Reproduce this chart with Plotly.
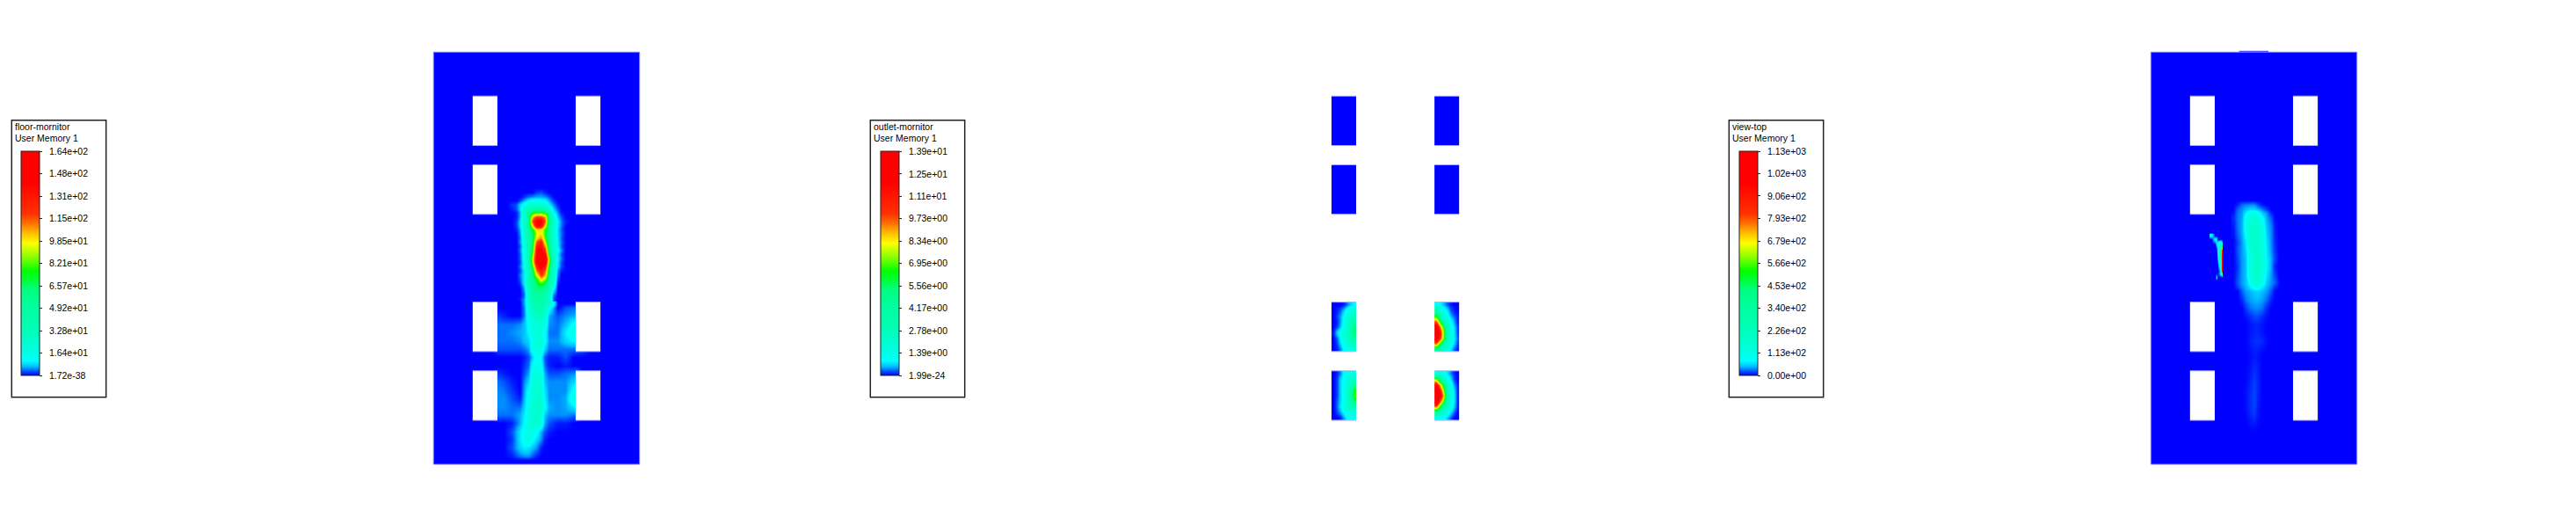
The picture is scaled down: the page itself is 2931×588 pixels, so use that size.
import plotly.graph_objects as go

W, H = 2931, 588

# ---------- colour map ----------
CMAP_POS = [0, .02, .04, .065, .10, .19, .30, .385, .42, .465, .52, .59, .64, .68, .72, .86, 1]
CMAP_COL = ["#0000ff", "#005aff", "#00beff", "#00ffff", "#00ffe6", "#00ffbe", "#00ffa0", "#00ff80", "#00ff40",
            "#00ff00", "#78ff00", "#ffff00", "#ffb400", "#ff6e00", "#ff3200", "#ff0000", "#ff0000"]

# ---------- legend texts ----------
FLOOR_TITLE = "floor-mornitor"
OUTLET_TITLE = "outlet-mornitor"
VIEW_TITLE = "view-top"
SUBTITLE = "User Memory 1"
FLOOR_TICKS = [0, 16.4, 32.8, 49.2, 65.7, 82.1, 98.5, 115, 131, 148, 164]
FLOOR_LABELS = ["1.72e-38", "1.64e+01", "3.28e+01", "4.92e+01", "6.57e+01", "8.21e+01", "9.85e+01", "1.15e+02", "1.31e+02", "1.48e+02", "1.64e+02"]
OUTLET_TICKS = [0, 1.39, 2.78, 4.17, 5.56, 6.95, 8.34, 9.73, 11.1, 12.5, 13.9]
OUTLET_LABELS = ["1.99e-24", "1.39e+00", "2.78e+00", "4.17e+00", "5.56e+00", "6.95e+00", "8.34e+00", "9.73e+00", "1.11e+01", "1.25e+01", "1.39e+01"]
VIEW_TICKS = [0, 113, 226, 340, 453, 566, 679, 793, 906, 1020, 1130]
VIEW_LABELS = ["0.00e+00", "1.13e+02", "2.26e+02", "3.40e+02", "4.53e+02", "5.66e+02", "6.79e+02", "7.93e+02", "9.06e+02", "1.02e+03", "1.13e+03"]

# ---------- geometry of the floor plan (model units) ----------
PLAN_W, PLAN_H = 25, 50
WIN_X = [(4.75, 7.75), (17.25, 20.25)]
WIN_Y = [(5.33, 11.33), (13.67, 19.67), (30.33, 36.33), (38.67, 44.67)]

# ---------- floor-mornitor field ----------
FLOOR_UP_X = [9, 9.5, 10, 10.5, 11, 11.5, 12, 12.5, 13, 13.5, 14, 14.5, 15, 15.5, 16, 16.5]
FLOOR_UP_Y = [16.5, 17, 17.5, 18, 18.5, 19, 19.5, 20, 20.5, 21, 21.5, 22, 22.5, 23, 23.5, 24, 24.5,
              25, 25.5, 26, 26.5, 27, 27.5, 28, 28.5, 29, 29.5, 30, 30.5]
FLOOR_UP_Z = [
    [0, 0, 0, 0, 0, 0, 0, 0, 0, 0, 0, 0, 0, 0, 0, 0],
    [0, 0, 0, 0, 0, 0, 0, 2, 3, 1, 0, 0, 0, 0, 0, 0],
    [0, 0, 0, 0, 2, 4, 5, 6, 6, 5, 3, 0, 0, 0, 0, 0],
    [0, 0, 0, 2, 6, 10, 12, 12, 12, 10, 6, 2, 0, 0, 0, 0],
    [0, 2, 3, 8, 14, 22, 24, 24, 24, 20, 10, 5, 1, 0, 0, 0],
    [0, 1, 3, 8, 24, 40, 45, 45, 45, 40, 22, 8, 3, 0, 0, 0],
    [0, 0, 1, 6, 24, 52, 72, 80, 80, 72, 40, 12, 5, 1, 0, 0],
    [0, 0, 1, 6, 24, 60, 102, 120, 120, 105, 55, 20, 7, 3, 0, 0],
    [0, 0, 2, 8, 26, 60, 115, 145, 145, 110, 55, 24, 10, 4, 1, 0],
    [0, 0, 2, 8, 26, 55, 95, 140, 135, 95, 52, 24, 9, 4, 0, 0],
    [0, 0, 1, 6, 24, 50, 72, 100, 100, 75, 50, 22, 8, 3, 0, 0],
    [0, 0, 0, 5, 20, 48, 62, 95, 100, 75, 50, 22, 8, 4, 0, 0],
    [0, 0, 0, 4, 18, 46, 62, 100, 110, 78, 48, 24, 9, 3, 0, 0],
    [0, 0, 0, 5, 18, 46, 66, 115, 128, 88, 50, 25, 9, 4, 0, 0],
    [0, 0, 0, 3, 14, 44, 68, 130, 135, 105, 52, 26, 10, 3, 0, 0],
    [0, 0, 0, 4, 16, 44, 72, 138, 148, 120, 58, 28, 12, 5, 0, 0],
    [0, 0, 0, 3, 14, 42, 80, 140, 150, 135, 68, 28, 9, 3, 0, 0],
    [0, 0, 0, 3, 14, 42, 90, 145, 155, 145, 90, 28, 10, 4, 0, 0],
    [0, 0, 0, 2, 12, 42, 88, 140, 150, 140, 85, 26, 9, 2, 0, 0],
    [0, 0, 0, 4, 12, 42, 75, 130, 145, 128, 72, 26, 8, 3, 0, 0],
    [0, 0, 0, 2, 10, 42, 62, 112, 128, 112, 62, 26, 5, 1, 0, 0],
    [0, 0, 0, 4, 10, 40, 58, 95, 120, 105, 58, 25, 4, 0, 0, 0],
    [0, 0, 0, 3, 10, 40, 55, 78, 104, 88, 50, 24, 2, 0, 0, 0],
    [0, 0, 0, 2, 10, 38, 52, 68, 82, 68, 45, 20, 1, 0, 0, 0],
    [0, 0, 0, 0, 7, 34, 50, 62, 66, 55, 36, 14, 0, 0, 0, 0],
    [0, 0, 0, 0, 5, 28, 45, 55, 56, 48, 30, 8, 0, 0, 0, 0],
    [0, 0, 0, 0, 4, 26, 40, 50, 50, 42, 28, 4, 0, 0, 0, 0],
    [0, 0, 0, 1, 6, 24, 38, 48, 48, 36, 26, 3, 0, 0, 0, 0],
    [0, 0, 0, 0, 6, 22, 33, 45, 45, 35, 25, 6, 0, 0, 0, 0],
]
FLOOR_LOW_X = [7, 7.75, 8.5, 9.5, 10.5, 11, 11.5, 12, 12.5, 13, 13.5, 14, 15, 16, 17, 17.25, 18, 19]
FLOOR_LOW_Y = [30.5, 31, 32, 33, 34, 35, 36, 37, 38, 39, 40, 41, 42, 43, 44, 45, 46, 47, 48, 49, 49.5]
FLOOR_LOW_Z = [
    [0, 0, 0, 0, 0, 6, 22, 33, 45, 45, 35, 25, 0, 0, 0, 0, 0, 0],
    [0, 0, 0, 0, 0, 5, 20, 30, 42, 40, 30, 12, 0, 3, 4, 4, 0, 0],
    [0, 2, 1, 0, 0, 5, 16, 22, 30, 30, 22, 6, 3, 5, 6, 7, 0, 0],
    [0, 4, 4, 4, 5, 7, 12, 18, 22, 22, 16, 5, 4, 7, 12, 14, 0, 0],
    [0, 4, 4, 5, 6, 7, 11, 18, 20, 18, 12, 4, 4, 10, 16, 18, 0, 0],
    [0, 4, 4, 4, 5, 7, 8, 14, 22, 24, 12, 5, 5, 8, 10, 10, 0, 0],
    [0, 3, 3, 3, 3, 4, 6, 14, 18, 16, 8, 4, 4, 4, 4, 4, 3, 0],
    [0, 0, 0, 0, 0, 1, 3, 7, 14, 10, 3, 1, 1, 3, 0, 0, 0, 0],
    [0, 0, 0, 0, 0, 2, 4, 12, 16, 12, 4, 1, 0, 1, 0, 0, 0, 0],
    [0, 2, 1, 0, 0, 3, 6, 16, 20, 16, 6, 3, 3, 4, 5, 6, 0, 0],
    [0, 4, 3, 1, 0, 5, 8, 18, 22, 18, 7, 5, 5, 5, 8, 9, 0, 0],
    [0, 5, 4, 2, 0, 6, 12, 20, 25, 20, 9, 5, 5, 5, 12, 16, 0, 0],
    [0, 5, 5, 3, 1, 7, 14, 20, 26, 22, 10, 5, 5, 6, 16, 20, 0, 0],
    [0, 5, 5, 4, 4, 8, 15, 22, 26, 24, 12, 6, 5, 6, 9, 10, 0, 0],
    [0, 4, 4, 4, 6, 10, 16, 24, 26, 22, 7, 5, 5, 5, 4, 4, 0, 0],
    [0, 0, 0, 1, 6, 11, 18, 24, 24, 16, 6, 3, 1, 1, 0, 0, 0, 0],
    [0, 0, 0, 3, 9, 14, 18, 16, 12, 6, 3, 1, 0, 0, 0, 0, 0, 0],
    [0, 0, 0, 2, 9, 13, 16, 12, 8, 5, 1, 0, 0, 0, 0, 0, 0, 0],
    [0, 0, 0, 3, 8, 10, 9, 7, 5, 1, 0, 0, 0, 0, 0, 0, 0, 0],
    [0, 0, 0, 1, 4, 5, 5, 3, 1, 0, 0, 0, 0, 0, 0, 0, 0, 0],
    [0, 0, 0, 0, 0, 0, 0, 0, 0, 0, 0, 0, 0, 0, 0, 0, 0, 0],
]

# ---------- outlet-mornitor field: one grid per window (7 x 9 samples) ----------
OUTLET_BLANK = [[0, 0], [0, 0]]
OUTLET_A = [
    [0, 0, 0, .1, .4, .7, .9],
    [0, .1, .3, .7, 1.2, 1.6, 2.0],
    [0, .2, .5, 1.0, 1.8, 2.4, 3.0],
    [0, .1, .5, 1.1, 2.0, 2.8, 4.0],
    [0, .2, .6, 1.3, 2.2, 3.4, 5.3],
    [.1, .7, 1.2, 1.8, 2.6, 3.6, 5.6],
    [0, .3, .9, 1.5, 2.3, 3.2, 4.5],
    [0, .2, .7, 1.3, 2.0, 2.6, 3.2],
    [0, .1, .4, 1.0, 1.2, 1.3, 1.4],
]
OUTLET_B = [
    [1.0, .9, .6, .3, .1, 0, 0],
    [4.0, 2.0, 1.2, .8, .3, .1, 0],
    [6.5, 3.5, 2.0, 1.2, .6, .3, .1],
    [9.8, 6.5, 3.3, 1.8, 1.0, .5, .1],
    [13, 9.5, 6.5, 2.8, 1.4, .7, .2],
    [13.5, 11, 7.5, 3.0, 1.6, .8, .2],
    [13, 10.5, 7.2, 3.0, 1.5, .8, .3],
    [9.5, 6.5, 3.5, 2.2, 1.3, .7, .2],
    [4.5, 3.0, 2.0, 1.3, .8, .3, .1],
]
OUTLET_C = [
    [0, .1, .4, 1.0, 1.3, 1.4, 1.4],
    [0, .2, .7, 1.1, 1.8, 2.2, 2.5],
    [0, .2, .7, 1.2, 2.0, 3.0, 5.0],
    [0, .2, .7, 1.2, 2.3, 4.0, 6.5],
    [0, .2, .7, 1.2, 2.3, 4.2, 7.0],
    [0, .3, .7, 1.2, 2.2, 3.5, 5.6],
    [0, .3, .8, 1.3, 2.0, 2.6, 3.0],
    [0, .2, .5, 1.0, 1.3, 1.6, 2.0],
    [0, 0, .1, .5, 1.0, 1.2, 1.3],
]
OUTLET_D = [
    [1.4, 1.3, 1.2, .8, .4, .1, 0],
    [7.5, 4.5, 2.2, 1.3, .8, .2, 0],
    [12, 9, 6, 2.5, 1.2, .5, .1],
    [14, 11, 7.5, 3.0, 1.5, .7, .1],
    [14, 12, 9, 3.5, 1.6, .8, .1],
    [13.5, 10, 6.8, 3.0, 1.5, .8, .1],
    [9, 6, 3.2, 2.2, 1.3, .6, .1],
    [4, 2.8, 2.0, 1.3, .7, .3, 0],
    [1.3, 1.2, 1.1, .6, .3, 0, 0],
]

# ---------- view-top field ----------
VIEW_X = [10, 10.5, 11, 11.5, 12, 12.5, 13, 13.5, 14, 14.5, 15, 15.5]
VIEW_Y = [18, 18.5, 19, 19.5, 20, 21, 22, 23, 24, 25, 26, 27, 28, 28.5, 29, 30, 31, 32, 33, 34, 35,
          36, 37, 38, 39, 40, 41, 42, 43, 44, 45, 46]
VIEW_Z = [
    [0, 0, 0, 0, 0, 0, 0, 0, 0, 0, 0, 0],
    [0, 10, 28, 32, 36, 36, 20, 6, 0, 0, 0, 0],
    [0, 25, 35, 45, 55, 55, 45, 30, 14, 0, 0, 0],
    [3, 30, 38, 65, 95, 100, 85, 50, 35, 8, 0, 0],
    [10, 30, 40, 85, 140, 150, 135, 75, 40, 22, 0, 0],
    [6, 30, 42, 95, 165, 175, 160, 100, 45, 32, 6, 0],
    [3, 26, 42, 80, 165, 180, 175, 120, 50, 34, 8, 0],
    [0, 18, 38, 62, 155, 180, 180, 130, 58, 34, 10, 0],
    [0, 22, 38, 52, 135, 175, 180, 140, 60, 36, 14, 0],
    [0, 18, 38, 46, 120, 175, 185, 145, 70, 40, 18, 0],
    [0, 14, 38, 46, 120, 175, 185, 140, 70, 40, 8, 0],
    [0, 18, 38, 46, 115, 170, 180, 125, 60, 36, 18, 0],
    [0, 22, 38, 46, 80, 150, 165, 95, 48, 36, 26, 4],
    [0, 14, 32, 42, 60, 90, 100, 62, 42, 30, 10, 0],
    [0, 0, 24, 38, 44, 50, 56, 46, 38, 22, 3, 0],
    [0, 0, 10, 28, 38, 44, 44, 38, 26, 8, 0, 0],
    [0, 0, 0, 14, 28, 34, 34, 28, 10, 0, 0, 0],
    [0, 0, 0, 3, 11, 18, 18, 10, 3, 0, 0, 0],
    [0, 0, 0, 0, 5, 8, 8, 4, 0, 0, 0, 0],
    [0, 0, 0, 0, 5, 8, 9, 4, 1, 0, 0, 0],
    [0, 0, 0, 0, 7, 11, 13, 10, 3, 0, 0, 0],
    [0, 0, 0, 0, 4, 8, 7, 3, 0, 0, 0, 0],
    [0, 0, 0, 0, 2, 6, 4, 0, 0, 0, 0, 0],
    [0, 0, 0, 0, 4, 10, 7, 0, 0, 0, 0, 0],
    [0, 0, 0, 0, 6, 13, 7, 0, 0, 0, 0, 0],
    [0, 0, 0, 1, 7, 16, 8, 0, 0, 0, 0, 0],
    [0, 0, 0, 3, 10, 18, 8, 0, 0, 0, 0, 0],
    [0, 0, 0, 3, 11, 18, 7, 0, 0, 0, 0, 0],
    [0, 0, 0, 3, 10, 17, 6, 0, 0, 0, 0, 0],
    [0, 0, 0, 1, 8, 14, 4, 0, 0, 0, 0, 0],
    [0, 0, 0, 0, 4, 7, 2, 0, 0, 0, 0, 0],
    [0, 0, 0, 0, 0, 0, 0, 0, 0, 0, 0, 0],
]
SLIVER_X = [7.33, 7.76, 7.94, 8.11, 8.29, 8.47, 8.6, 8.65]
SLIVER_Y = [22.24, 22.67, 23.3, 23.7, 24.45, 25.2, 25.9, 26.6, 26.8, 27.3]
SLIVER_Z = [
    [70, 0, 0, 0, 0, 0, 0, 0],
    [0, 80, 60, 0, 0, 0, 0, 0],
    [0, 0, 60, 100, 150, 150, 120, 100],
    [0, 0, 20, 90, 180, 300, 500, 700],
    [0, 0, 0, 70, 170, 320, 650, 1000],
    [0, 0, 0, 30, 120, 280, 650, 1000],
    [0, 0, 0, 0, 80, 200, 600, 1000],
    [0, 0, 0, 0, 20, 140, 500, 900],
    [0, 0, 0, 0, 40, 120, 220, 250],
    [0, 0, 60, 0, 0, 0, 0, 0],
]

# ---------- layout in pixels ----------
PANEL_LEFT = [493.3, 1470.5, 2447.3]
PANEL_RIGHT = [727.7, 1704.8, 2681.7]
PANEL_TOP, PANEL_BOTTOM = 59.3, 528.0
BOX_LEFT = [13.3, 990.3, 1967.3]
BOX_W, BOX_TOP, BOX_BOTTOM = 107.4, 136.7, 451.7
BAR_LEFT = [24.3, 1001.7, 1978.7]
BAR_W, BAR_TOP, BAR_BOTTOM = 21.4, 172.7, 427.3
TITLE_X = [16, 993, 1970]
TITLE_Y, SUB_Y = 144.5, 157.5
FONT = "Liberation Sans"


def px(x):
    return x / W


def py(y):
    return 1 - y / H


scale = [[p, c] for p, c in zip(CMAP_POS, CMAP_COL)]
fig = go.Figure()


def hm(x, y, z, axis, n):
    suffix = "" if n == 1 else str(n)
    fig.add_trace(go.Heatmap(x=x, y=y, z=z, coloraxis=axis, zsmooth="best", hoverinfo="skip",
                             xaxis="x" + suffix, yaxis="y" + suffix))


def edges(lo, hi, n):
    return [lo + (hi - lo) * i / n for i in range(n + 1)]


hm(FLOOR_UP_X, FLOOR_UP_Y, FLOOR_UP_Z, "coloraxis", 1)
hm(FLOOR_LOW_X, FLOOR_LOW_Y, FLOOR_LOW_Z, "coloraxis", 1)

outlet_grids = [(0, 0, OUTLET_BLANK), (1, 0, OUTLET_BLANK), (0, 1, OUTLET_BLANK), (1, 1, OUTLET_BLANK),
                (0, 2, OUTLET_A), (1, 2, OUTLET_B), (0, 3, OUTLET_C), (1, 3, OUTLET_D)]
for cx, ry, grid in outlet_grids:
    nc, nr = len(grid[0]), len(grid)
    hm(edges(*WIN_X[cx], nc), edges(*WIN_Y[ry], nr), grid, "coloraxis2", 2)

hm(VIEW_X, VIEW_Y, VIEW_Z, "coloraxis3", 3)
hm(SLIVER_X, SLIVER_Y, SLIVER_Z, "coloraxis3", 3)

shapes = []
for i in range(3):
    suffix = "" if i == 0 else str(i + 1)
    xref, yref = "x" + suffix, "y" + suffix
    if i != 1:
        shapes.append(dict(type="rect", xref=xref, yref=yref, x0=0, x1=PLAN_W, y0=0, y1=PLAN_H,
                           fillcolor="#0000ff", line_width=0, layer="below"))
        for wx in WIN_X:
            for wy in WIN_Y:
                shapes.append(dict(type="rect", xref=xref, yref=yref, x0=wx[0], x1=wx[1], y0=wy[0], y1=wy[1],
                                   fillcolor="white", line_width=0, layer="above"))
        shapes.append(dict(type="rect", xref="paper", yref="paper", x0=px(PANEL_LEFT[i]), x1=px(PANEL_RIGHT[i]),
                           y0=py(PANEL_BOTTOM), y1=py(PANEL_TOP), line=dict(color="#7070ff", width=1),
                           fillcolor="rgba(0,0,0,0)", layer="above"))
    for wx in WIN_X:
        for wy in WIN_Y:
            for edge in wy:
                shapes.append(dict(type="line", xref=xref, yref=yref, x0=wx[0], x1=wx[1], y0=edge, y1=edge,
                                   line=dict(color="#a8a8ff", width=1), layer="above"))
    shapes.append(dict(type="rect", xref="paper", yref="paper", x0=px(BOX_LEFT[i]), x1=px(BOX_LEFT[i] + BOX_W),
                       y0=py(BOX_BOTTOM), y1=py(BOX_TOP), line=dict(color="#222222", width=1.5),
                       fillcolor="rgba(0,0,0,0)", layer="above"))

# small inlet strip on top of the view-top panel
shapes.append(dict(type="rect", xref="paper", yref="paper",
                   x0=px(2430 + 353 / 3), x1=px(2430 + 453 / 3), y0=py(PANEL_TOP), y1=py(PANEL_TOP - 1.5),
                   fillcolor="#5050ff", line_width=0, layer="above"))

annotations = []
for i, title in enumerate([FLOOR_TITLE, OUTLET_TITLE, VIEW_TITLE]):
    for text, y in ((title, TITLE_Y), (SUBTITLE, SUB_Y)):
        annotations.append(dict(text=text, xref="paper", yref="paper", x=px(TITLE_X[i]), y=py(y), xanchor="left",
                                yanchor="middle", showarrow=False, borderpad=0,
                                font=dict(family=FONT, size=10.5, color="black")))


def caxis(i, vmax, ticks, labels):
    return dict(
        cmin=0, cmax=vmax, colorscale=scale,
        colorbar=dict(
            x=px(BAR_LEFT[i]), xanchor="left", xpad=0, y=py(BAR_BOTTOM), yanchor="bottom", ypad=0,
            lenmode="pixels", len=BAR_BOTTOM - BAR_TOP, thicknessmode="pixels", thickness=BAR_W,
            outlinecolor="#222222", outlinewidth=1, borderwidth=0, bgcolor="rgba(0,0,0,0)",
            tickmode="array", tickvals=ticks, ticktext=["\u00a0\u00a0" + s for s in labels],
            ticks="outside", ticklen=3, tickwidth=1, tickcolor="#222222",
            tickfont=dict(family=FONT, size=10.5, color="black"),
        ),
    )


def ax_x(i):
    return dict(domain=[px(PANEL_LEFT[i]), px(PANEL_RIGHT[i])], range=[0, PLAN_W], visible=False, fixedrange=True)


def ax_y(i):
    return dict(domain=[py(PANEL_BOTTOM), py(PANEL_TOP)], range=[PLAN_H, 0], visible=False, fixedrange=True)


fig.update_layout(
    width=W, height=H, margin=dict(l=0, r=0, t=0, b=0, pad=0), autosize=False,
    paper_bgcolor="white", plot_bgcolor="rgba(0,0,0,0)", showlegend=False,
    shapes=shapes, annotations=annotations,
    coloraxis=caxis(0, FLOOR_TICKS[-1], FLOOR_TICKS, FLOOR_LABELS),
    coloraxis2=caxis(1, OUTLET_TICKS[-1], OUTLET_TICKS, OUTLET_LABELS),
    coloraxis3=caxis(2, VIEW_TICKS[-1], VIEW_TICKS, VIEW_LABELS),
    xaxis=ax_x(0), yaxis=ax_y(0), xaxis2=ax_x(1), yaxis2=ax_y(1), xaxis3=ax_x(2), yaxis3=ax_y(2),
)

fig.write_html("out.html", config={"displayModeBar": False},
               post_script="document.body.style.margin='0';document.body.style.overflow='hidden';")
